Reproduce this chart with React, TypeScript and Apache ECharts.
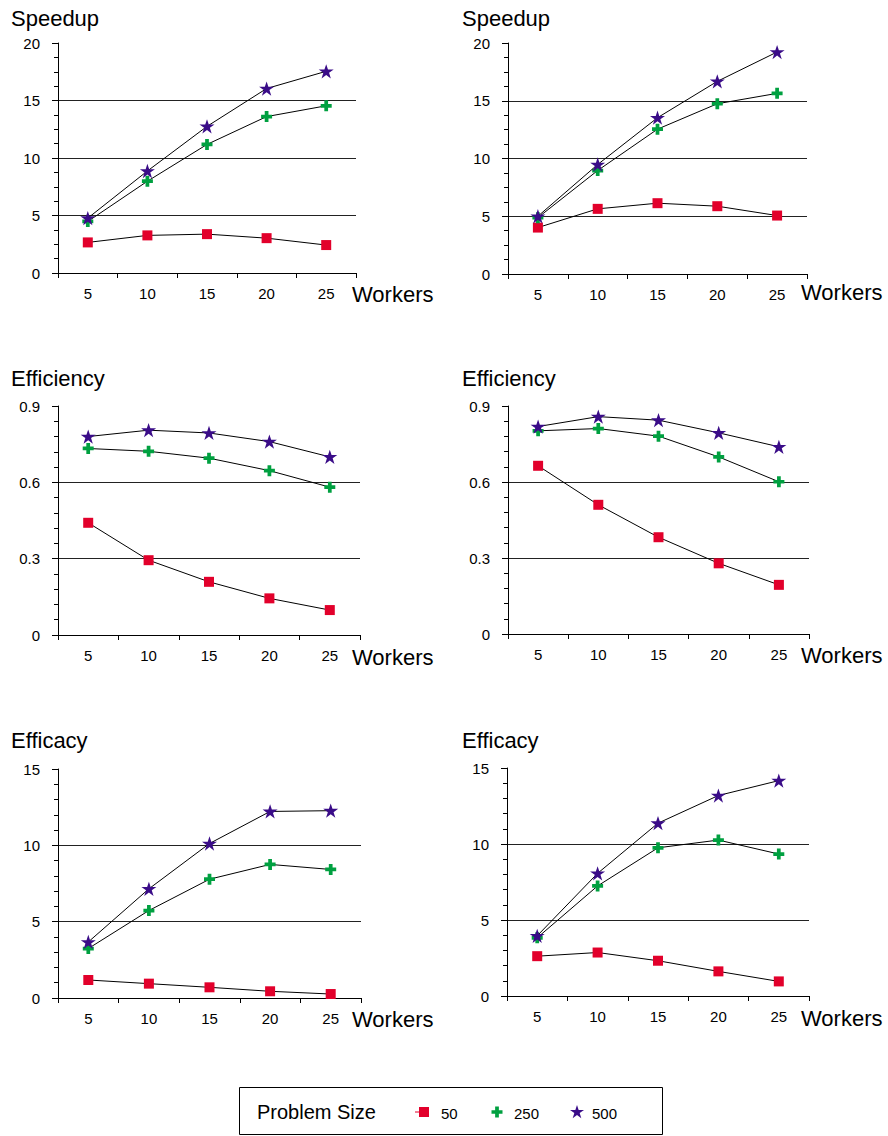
import React, { useEffect, useRef } from 'react';
import * as echarts from 'echarts';

const categories = ['5', '10', '15', '20', '25'];
const sizeNames = ['50', '250', '500'];
const sizeColors = ['#E2002B', '#00A040', '#3A0C88'];

// Speedup
const speedupL50 = [2.66, 3.27, 3.38, 3.03, 2.43];
const speedupL250 = [4.48, 7.98, 11.18, 13.6, 14.54];
const speedupL500 = [4.77, 8.87, 12.75, 16.04, 17.54];
const speedupR50 = [4.02, 5.64, 6.13, 5.87, 5.06];
const speedupR250 = [4.88, 8.96, 12.54, 14.74, 15.64];
const speedupR500 = [5.0, 9.48, 13.53, 16.68, 19.22];
// Efficiency
const effL50 = [0.441, 0.294, 0.209, 0.144, 0.098];
const effL250 = [0.733, 0.722, 0.695, 0.646, 0.581];
const effL500 = [0.78, 0.805, 0.794, 0.76, 0.7];
const effR50 = [0.664, 0.51, 0.382, 0.279, 0.194];
const effR250 = [0.802, 0.811, 0.781, 0.699, 0.601];
const effR500 = [0.819, 0.858, 0.844, 0.794, 0.739];
// Efficacy
const efcL50 = [1.18, 0.94, 0.7, 0.44, 0.26];
const efcL250 = [3.24, 5.73, 7.78, 8.75, 8.42];
const efcL500 = [3.67, 7.15, 10.12, 12.22, 12.27];
const efcR50 = [2.62, 2.86, 2.32, 1.62, 0.96];
const efcR250 = [3.83, 7.24, 9.75, 10.26, 9.34];
const efcR500 = [3.96, 8.07, 11.37, 13.19, 14.17];

const titles = ['Speedup', 'Speedup', 'Efficiency', 'Efficiency', 'Efficacy', 'Efficacy'];
const yMax = [20, 20, 0.9, 0.9, 15, 15];
const yInterval = [5, 5, 0.3, 0.3, 5, 5];
const yMinorSplit = [4, 4, 5, 5, 5, 5];
const panelData = [
  [speedupL50, speedupL250, speedupL500],
  [speedupR50, speedupR250, speedupR500],
  [effL50, effL250, effL500],
  [effR50, effR250, effR500],
  [efcL50, efcL250, efcL500],
  [efcR50, efcR250, efcR500],
];
const xAxisName = 'Workers';
const legendTitle = 'Problem Size';

const FONT = 'Liberation Sans, Arial, sans-serif';
const CROSS_D = 'M3.3,0H6.7V3.3H10V6.7H6.7V10H3.3V6.7H0V3.3H3.3Z';
const STAR_D = 'M50,0L61.8,35.4L100,35.4L69.1,57.3L80.9,95.1L50,71.6L19.1,95.1L30.9,57.3L0,35.4L38.2,35.4Z';
const symbols = ['rect', 'path://' + CROSS_D, 'path://' + STAR_D];
const symbolSizes = [10, 11, 15];

const grids = [
  { left: 58, top: 43, width: 298, height: 230 },
  { left: 508, top: 43, width: 299, height: 231 },
  { left: 58, top: 406, width: 302, height: 229 },
  { left: 508, top: 406, width: 301, height: 228 },
  { left: 58, top: 769, width: 303, height: 229 },
  { left: 507, top: 768, width: 302, height: 228 },
];
const titlePos = [
  [11, 18], [462, 18], [11, 378], [462, 378], [11, 740], [462, 740],
];
const workersPos = [
  [352, 294], [801, 292], [352, 657], [801, 655], [352, 1019], [801, 1018],
];
const legendMarkerX = [424, 497, 577];
const legendTextX = [441, 514, 592];

echarts.graphic.registerShape('legendCross', echarts.graphic.extendPath(CROSS_D, {}));
echarts.graphic.registerShape('legendStar', echarts.graphic.extendPath(STAR_D, {}));

export default function App() {
  const ref = useRef<HTMLDivElement>(null);
  useEffect(() => {
    document.body.style.margin = '0';
    const chart = echarts.init(ref.current!, undefined, { renderer: 'svg' });
    const series: any[] = [];
    panelData.forEach((sets, i) => {
      sets.forEach((vals, j) => {
        series.push({
          type: 'line',
          name: sizeNames[j],
          xAxisIndex: i,
          yAxisIndex: i,
          data: vals,
          symbol: symbols[j],
          symbolSize: symbolSizes[j],
          symbolKeepAspect: true,
          itemStyle: { color: sizeColors[j] },
          lineStyle: { color: '#000', width: 1 },
          z: 2 + j,
        });
      });
    });
    const graphic: any[] = [];
    titles.forEach((t, i) => {
      graphic.push({
        type: 'text', x: titlePos[i][0], y: titlePos[i][1],
        style: { text: t, fontSize: 22, fontFamily: FONT, fill: '#000', textVerticalAlign: 'middle' },
      });
      graphic.push({
        type: 'text', x: workersPos[i][0], y: workersPos[i][1],
        style: { text: xAxisName, fontSize: 22, fontFamily: FONT, fill: '#000', textVerticalAlign: 'middle' },
      });
    });
    // legend box
    const ly = 1112;
    graphic.push({
      type: 'rect', shape: { x: 239.5, y: 1087.5, width: 423, height: 47 },
      style: { fill: '#fff', stroke: '#000', lineWidth: 1 }, z: 0,
    });
    graphic.push({
      type: 'text', x: 257, y: ly,
      style: { text: legendTitle, fontSize: 20, fontFamily: FONT, fill: '#000', textVerticalAlign: 'middle' },
      z: 1,
    });
    // legend markers
    graphic.push({
      type: 'rect', shape: { x: legendMarkerX[0] - 5, y: ly - 5, width: 10, height: 10 },
      style: { fill: sizeColors[0] }, z: 1,
    });
    graphic.push({
      type: 'line', shape: { x1: legendMarkerX[0] - 9, y1: ly, x2: legendMarkerX[0] - 5, y2: ly },
      style: { stroke: sizeColors[0], lineWidth: 1 }, z: 1,
    });
    graphic.push({
      type: 'legendCross', x: legendMarkerX[1] - 5.5, y: ly - 5.5, scaleX: 1.1, scaleY: 1.1,
      style: { fill: sizeColors[1] }, z: 1,
    });
    graphic.push({
      type: 'legendStar', x: legendMarkerX[2] - 7, y: ly - 7, scaleX: 0.14, scaleY: 0.14,
      style: { fill: sizeColors[2] }, z: 1,
    });
    sizeNames.forEach((n, j) => {
      graphic.push({
        type: 'text', x: legendTextX[j], y: ly + 1,
        style: { text: n, fontSize: 15, fontFamily: FONT, fill: '#000', textVerticalAlign: 'middle' },
        z: 1,
      });
    });
    const option: any = {
      animation: false,
      backgroundColor: '#fff',
      grid: grids.map((g) => ({ ...g, containLabel: false })),
      xAxis: grids.map((_, i) => ({
        type: 'category',
        gridIndex: i,
        data: categories,
        boundaryGap: true,
        axisLine: { show: true, lineStyle: { color: '#000', width: 1 } },
        axisTick: { show: true, length: 5, alignWithLabel: false, lineStyle: { color: '#000' } },
        axisLabel: { color: '#000', fontSize: 15, fontFamily: FONT, margin: 13, interval: 0 },
        splitLine: { show: false },
      })),
      yAxis: grids.map((_, i) => ({
        type: 'value',
        gridIndex: i,
        min: 0,
        max: yMax[i],
        interval: yInterval[i],
        axisLine: { show: true, lineStyle: { color: '#000', width: 1 } },
        axisTick: { show: true, length: 6, lineStyle: { color: '#000' } },
        minorTick: { show: true, splitNumber: yMinorSplit[i], length: 4, lineStyle: { color: '#000', width: 1 } },
        axisLabel: { color: '#000', fontSize: 15, fontFamily: FONT, margin: 18 },
        splitLine: { show: true, showMinLine: false, showMaxLine: false, lineStyle: { color: '#222', width: 1 } },
        minorSplitLine: { show: false },
      })),
      graphic,
      series,
    };
    chart.setOption(option);
    return () => chart.dispose();
  }, []);
  return <div ref={ref} style={{ width: 888, height: 1136 }} />;
}
